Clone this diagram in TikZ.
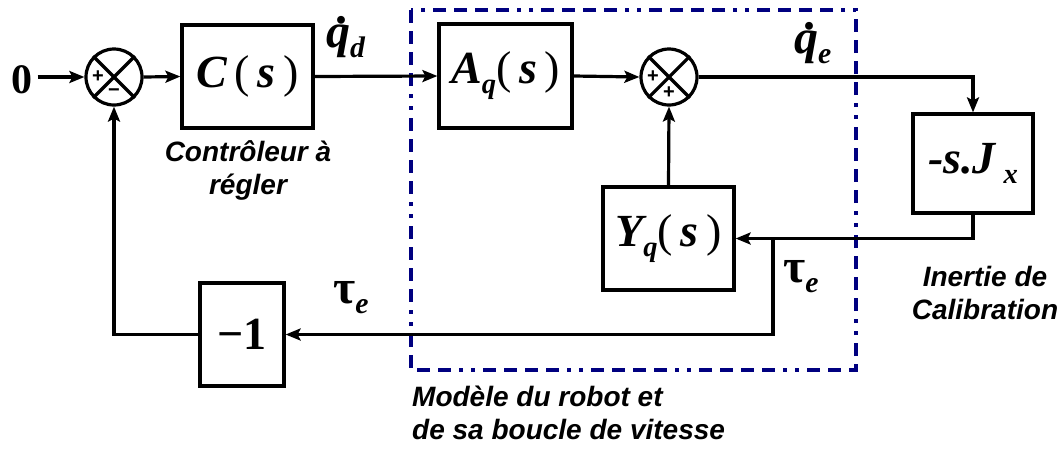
\documentclass[tikz,border=0pt]{standalone}
\usepackage{fontspec}
\usepackage{graphicx}
\setmainfont{Liberation Serif}
\newfontfamily\arial{Liberation Sans}
\usetikzlibrary{arrows.meta}
\newcommand{\bi}[1]{{\bfseries\itshape #1}}
\newcommand{\sub}[1]{\raisebox{-0.22em}{\scalebox{0.62}{\bfseries\itshape #1}}}
\newcommand{\qd}{\rlap{\raisebox{0.5em}{\hspace{0.2em}\bfseries .}}\bi{q}}
\begin{document}
\begin{tikzpicture}[x=1pt,y=-1pt,
  lw/.style={line width=3.2pt},
  blk/.style={draw,lw,inner sep=0pt,font=\fontsize{46}{46}\selectfont},
  sumj/.style={draw,lw,circle,minimum size=56pt,inner sep=0pt},
  conn/.style={lw,-{Stealth[length=15pt,width=12pt,inset=3pt]}},
  sgn/.style={font=\arial\bfseries\fontsize{20}{20}\selectfont,inner sep=0pt},
  lbl/.style={font=\fontsize{48}{48}\selectfont,inner sep=0pt,anchor=base west},
  note/.style={font=\arial\bfseries\itshape\fontsize{28}{33}\selectfont,inner sep=0pt},
  frame/.style={draw={rgb,255:red,0;green,0;blue,128},line width=4pt,
    dash pattern=on 13pt off 8pt on 13pt off 8pt on 13pt off 8pt on 13pt off 8pt on 4pt off 8pt on 4pt off 8pt}
]
\useasboundingbox (0,0) rectangle (1063,451);
% frame
\draw[frame] (411,10) rectangle (856,370);
% nodes
\node[inner sep=0pt,font=\bfseries\fontsize{42}{42}\selectfont] (zero) at (22,80) {0};
\node[sumj] (s1) at (114,77) {};
\node[blk,minimum width=131pt,minimum height=103pt] (C) at (247.5,76.5) {\bi{C}\,(\,\bi{s}\,)};
\node[blk,minimum width=133pt,minimum height=104pt] (A) at (505.5,76) {\bi{A}\sub{q}(\,\bi{s}\,)};
\node[sumj] (s2) at (669,77) {};
\node[blk,minimum width=120pt,minimum height=99pt] (J) at (973,163.5) {\bfseries\itshape -s.J\,\sub{x}};
\node[blk,minimum width=131pt,minimum height=103pt] (Y) at (668.5,238.5) {\bi{Y}\sub{q}(\,\bi{s}\,)};
\node[blk,minimum width=84pt,minimum height=103pt] (M) at (242,334.5) {\bfseries −1};
% summing junction details
\foreach \s in {s1,s2}{
  \draw[lw] (\s.north west) -- (\s.south east);
  \draw[lw] (\s.north east) -- (\s.south west);
}
\node[sgn] (p1) at ([xshift=-16pt]s1.center) {+};
\node[sgn] (m1) at ([yshift=-16pt]s1.center) {−};
\node[sgn] (p2) at ([xshift=-16pt]s2.center) {+};
\node[sgn] (p3) at ([yshift=-16pt]s2.center) {+};
% connectors
\coordinate (z0) at ([xshift=5pt]zero.east);
\draw[conn] (z0 |- s1.west) -- (s1.west);
\draw[conn] (s1.east) -- (C.west);
\draw[conn] (C.east) -- (A.west);
\draw[conn] (A.east) -- (s2.west);
\draw[conn] (s2.east) -| (J.north);
\draw[conn] (J.south) |- (Y.east);
\coordinate (br) at (773,238.5);
\draw[conn] (br) |- (M.east);
\draw[conn] (M.west) -| (s1.south);
\draw[conn] (Y.north) -- (s2.south);
% signal labels
\node[lbl] (qdl) at (326,47) {\qd\sub{d}};
\node[lbl] (qel) at (794,53) {\qd\sub{e}};
\node[lbl] (t1) at (333,303) {\bfseries τ\sub{e}};
\node[lbl] (t2) at (783,282) {\bfseries τ\sub{e}};
% notes
\node[note,align=center] (n1) at (248,170) {Contrôleur à\\régler};
\node[note,align=center] (n2) at (985,293) {Inertie de\\Calibration};
\node[note,align=left,anchor=north west] (n3) at (412,386) {Modèle du robot et\\de sa boucle de vitesse};
\end{tikzpicture}
\end{document}
